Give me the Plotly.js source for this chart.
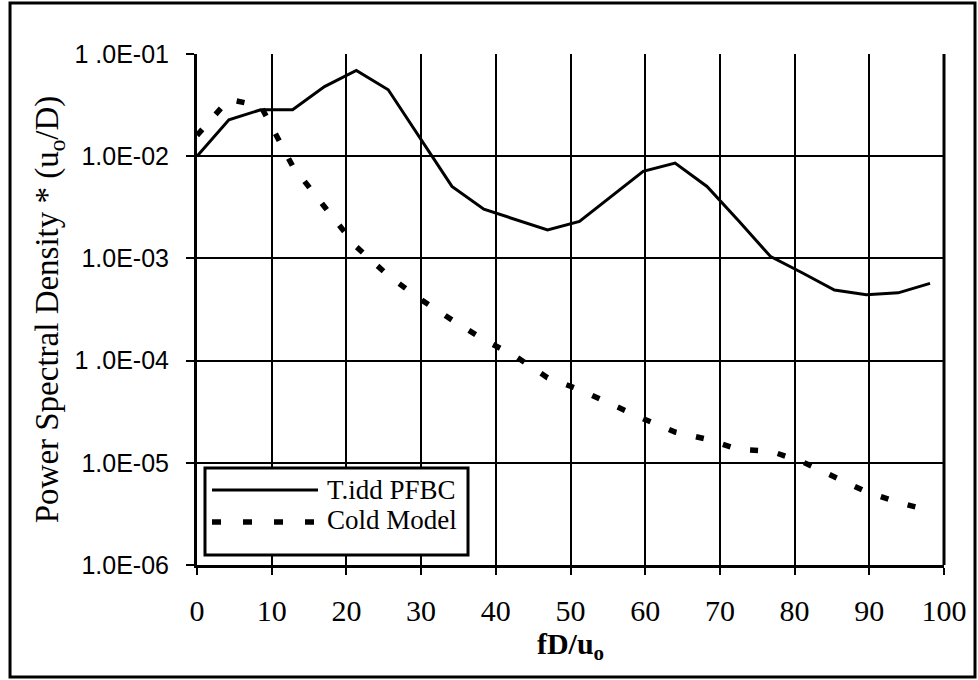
<!DOCTYPE html>
<html>
<head>
<meta charset="utf-8">
<script src="https://cdn.plot.ly/plotly-3.0.1.min.js"></script>
<style>html,body{margin:0;padding:0;background:#fff;}#chart{width:978px;height:680px;}</style>
</head>
<body>
<div id="chart"></div>
<script>
// Data
const freqTidd = [0, 4.27, 8.53, 12.8, 17.07, 21.33, 25.6, 29.87, 34.13, 38.4, 42.67, 46.93, 51.2, 55.47, 59.73, 64, 68.27, 72.53, 76.8, 81.07, 85.33, 89.6, 93.87, 98.13];
const psdTidd = [0.0100, 0.0227, 0.0285, 0.0285, 0.048, 0.069, 0.0447, 0.0149, 0.00506, 0.00303, 0.00239, 0.0019, 0.0023, 0.00404, 0.0071, 0.00857, 0.00506, 0.00232, 0.00104, 0.00072, 0.00049, 0.00044, 0.00046, 0.00057];
const freqCold = [0, 4.27, 8.53, 12.8, 17.07, 21.33, 25.6, 29.87, 34.13, 38.4, 42.67, 46.93, 51.2, 55.47, 59.73, 64, 68.27, 72.53, 76.8, 81.07, 85.33, 89.6, 93.87, 98.13];
const psdCold = [0.016, 0.036, 0.031, 0.008, 0.0032, 0.0013, 0.00068, 0.0004, 0.00025, 0.00016, 0.00011, 0.000068, 0.000052, 0.000037, 0.000027, 0.00002, 0.000017, 0.0000135, 0.000013, 0.0000102, 0.0000072, 0.0000052, 0.0000041, 0.0000034];
const seriesNames = ["T.idd PFBC", "Cold Model"];
const yTickVals = [1e-6, 1e-5, 1e-4, 1e-3, 1e-2, 1e-1];
const yTickText = ["1.0E-06", "1.0E-05", "1 .0E-04", "1.0E-03", "1.0E-02", "1 .0E-01"];
const xTickVals = [0, 10, 20, 30, 40, 50, 60, 70, 80, 90, 100];

const traces = [
  {x: freqTidd, y: psdTidd, type: 'scatter', mode: 'lines', name: seriesNames[0],
   line: {color: '#000', width: 3}, showlegend: false},
  {x: freqCold, y: psdCold, type: 'scatter', mode: 'lines', name: seriesNames[1],
   line: {color: '#000', width: 5.5, dash: '8px,20px'}, showlegend: false}
];

const serif = 'Liberation Serif, Times New Roman, serif';
const sans = 'Liberation Sans, Arial, sans-serif';

const layout = {
  width: 978, height: 680,
  margin: {l: 197, r: 34, t: 54, b: 115},
  paper_bgcolor: '#fff', plot_bgcolor: '#fff',
  showlegend: false,
  xaxis: {
    range: [0, 100], tickvals: xTickVals, ticktext: xTickVals.map(String),
    showgrid: true, gridcolor: '#000', gridwidth: 2,
    showline: true, linecolor: '#000', linewidth: 3,
    ticks: 'outside', ticklen: 7, tickwidth: 2, tickcolor: '#000',
    ticklabelstandoff: 10,
    tickfont: {family: serif, size: 30, color: '#000'},
    zeroline: false,
    title: {text: '<b>fD/u<sub>o</sub></b>', font: {family: serif, size: 30, color: '#000'}, standoff: 0}
  },
  yaxis: {
    type: 'log', range: [-6, -1], tickvals: yTickVals, ticktext: yTickText,
    showgrid: true, gridcolor: '#000', gridwidth: 2,
    showline: true, linecolor: '#000', linewidth: 3,
    ticks: 'outside', ticklen: 8, tickwidth: 2, tickcolor: '#000',
    ticklabelstandoff: 12,
    tickfont: {family: sans, size: 25, color: '#000'},
    zeroline: false,
    title: {text: 'Power Spectral Density * (u<sub>o</sub>/D)', font: {family: serif, size: 33, color: '#000'}, standoff: 6}
  },
  shapes: [
    {type: 'rect', xref: 'paper', yref: 'paper', x0: 1, x1: 1, y0: 0, y1: 1, line: {color: '#000', width: 3}},
    {type: 'rect', xref: 'paper', yref: 'paper', x0: -0.2503, x1: 1.0415, y0: -0.219, y1: 1.0998,
     line: {color: '#000', width: 3}, layer: 'above'},
    {type: 'rect', xref: 'paper', yref: 'paper', x0: 0.0107, x1: 0.3628, y0: 0.0196, y1: 0.1898,
     fillcolor: '#fff', line: {color: '#000', width: 3}, layer: 'above'},
    {type: 'line', xref: 'paper', yref: 'paper', x0: 0.0201, x1: 0.162, y0: 0.1468, y1: 0.1468,
     line: {color: '#000', width: 3}, layer: 'above'},
    {type: 'line', xref: 'paper', yref: 'paper', x0: 0.0201, x1: 0.162, y0: 0.0841, y1: 0.0841,
     line: {color: '#000', width: 5.5, dash: '9px,22px'}, layer: 'above'}
  ],
  annotations: [
    {xref: 'paper', yref: 'paper', x: 0.1714, y: 0.1468, xanchor: 'left', yanchor: 'middle',
     text: seriesNames[0], showarrow: false, font: {family: serif, size: 27, color: '#000'}},
    {xref: 'paper', yref: 'paper', x: 0.1714, y: 0.0881, xanchor: 'left', yanchor: 'middle',
     text: seriesNames[1], showarrow: false, font: {family: serif, size: 27, color: '#000'}}
  ]
};

Plotly.newPlot('chart', traces, layout, {staticPlot: true, displayModeBar: false});
</script>
</body>
</html>
